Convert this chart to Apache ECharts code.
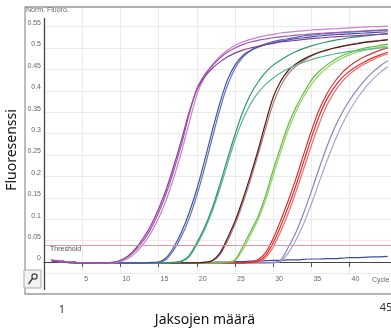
<!DOCTYPE html>
<html><head><meta charset="utf-8">
<script src="https://cdn.jsdelivr.net/npm/echarts@6/dist/echarts.min.js"></script>
<style>html,body{margin:0;padding:0;background:#fff}#c{width:391px;height:329px}</style>
</head><body><div id="c"></div>
<script>
const cycles = [1,2,3,4,5,6,7,8,9,10,11,12,13,14,15,16,17,18,19,20,21,22,23,24,25,26,27,28,29,30,31,32,33,34,35,36,37,38,39,40,41,42,43,44,45];
const xTickLabels = [5,10,15,20,25,30,35,40];
const yTickLabels = [0,0.05,0.1,0.15,0.2,0.25,0.3,0.35,0.4,0.45,0.5,0.55];
const threshold = 0.044;

const purpleA = [0.004,0.002,0.000,-0.001,-0.002,-0.002,-0.002,-0.002,-0.001,0.003, 0.012,0.028,0.05,0.078,0.115,0.16,0.215,0.275,0.345,0.405, 0.437,0.458,0.476,0.49,0.5,0.508,0.514,0.518,0.521,0.524, 0.526,0.528,0.53,0.531,0.533,0.534,0.535,0.536,0.537,0.538, 0.539,0.54,0.541,0.542,0.543];
const purpleB = [0.005,0.003,0.001,-0.001,-0.002,-0.003,-0.003,-0.002,-0.002,0.001, 0.008,0.022,0.042,0.068,0.102,0.145,0.198,0.258,0.325,0.39, 0.432,0.46,0.48,0.495,0.506,0.514,0.52,0.525,0.529,0.532, 0.535,0.537,0.539,0.54,0.542,0.543,0.544,0.545,0.546,0.547, 0.548,0.549,0.55,0.55,0.551];
const purpleC = [0.003,0.001,-0.001,-0.002,-0.003,-0.003,-0.002,-0.002,-0.001,0.004, 0.014,0.032,0.056,0.086,0.124,0.17,0.225,0.285,0.35,0.402, 0.432,0.452,0.467,0.479,0.488,0.495,0.5,0.504,0.508,0.511, 0.514,0.516,0.518,0.52,0.522,0.523,0.525,0.526,0.527,0.528, 0.529,0.53,0.531,0.532,0.533];
const blueA = [0.004,0.002,0.0,-0.001,-0.002,-0.002,-0.002,-0.002,-0.002,-0.002, -0.002,-0.002,-0.002,-0.001,0.0,0.01,0.035,0.07,0.115,0.17, 0.235,0.305,0.37,0.425,0.46,0.482,0.494,0.502,0.508,0.512, 0.516,0.519,0.522,0.524,0.526,0.528,0.53,0.531,0.532,0.533, 0.534,0.535,0.536,0.537,0.538];
const blueB = [0.003,0.001,-0.001,-0.002,-0.002,-0.003,-0.003,-0.002,-0.002,-0.002, -0.002,-0.002,-0.002,-0.002,-0.001,0.006,0.028,0.06,0.102,0.155, 0.218,0.288,0.355,0.412,0.452,0.478,0.493,0.503,0.51,0.515, 0.519,0.522,0.525,0.528,0.53,0.532,0.534,0.535,0.536,0.537, 0.538,0.539,0.54,0.541,0.542];
const tealA = [0.004,0.002,0.0,-0.001,-0.002,-0.002,-0.002,-0.002,-0.002,-0.002, -0.002,-0.002,-0.002,-0.002,-0.002,-0.002,-0.001,0.002,0.015,0.045, 0.08,0.125,0.18,0.24,0.298,0.35,0.39,0.42,0.443,0.46, 0.472,0.483,0.492,0.499,0.505,0.51,0.514,0.518,0.521,0.524, 0.526,0.528,0.53,0.532,0.534];
const tealB = [0.003,0.001,-0.001,-0.002,-0.002,-0.002,-0.003,-0.003,-0.002,-0.002, -0.002,-0.002,-0.002,-0.002,-0.002,-0.002,-0.001,0.001,0.012,0.04, 0.075,0.118,0.17,0.228,0.285,0.332,0.368,0.395,0.415,0.43, 0.442,0.452,0.46,0.467,0.473,0.478,0.482,0.486,0.489,0.492, 0.494,0.496,0.498,0.5,0.501];
const brownA = [0.004,0.002,0.0,-0.001,-0.002,-0.002,-0.002,-0.002,-0.002,-0.002, -0.002,-0.002,-0.002,-0.002,-0.002,-0.002,-0.002,-0.002,-0.002,-0.002, -0.001,0.003,0.02,0.055,0.095,0.145,0.2,0.26,0.325,0.385, 0.423,0.448,0.463,0.474,0.483,0.49,0.495,0.5,0.504,0.507, 0.51,0.513,0.515,0.517,0.519];
const brownB = [0.003,0.001,-0.001,-0.002,-0.002,-0.002,-0.002,-0.003,-0.003,-0.002, -0.002,-0.002,-0.002,-0.002,-0.002,-0.002,-0.002,-0.002,-0.002,-0.002, -0.001,0.002,0.016,0.048,0.088,0.136,0.19,0.25,0.312,0.37, 0.412,0.44,0.458,0.471,0.481,0.489,0.495,0.5,0.504,0.508, 0.511,0.514,0.516,0.518,0.52];
const lgreenA = [0.004,0.002,0.0,-0.001,-0.002,-0.002,-0.002,-0.002,-0.002,-0.002, -0.002,-0.002,-0.002,-0.002,-0.002,-0.002,-0.002,-0.002,-0.002,-0.002, -0.002,-0.002,-0.002,-0.001,0.005,0.035,0.07,0.105,0.155,0.215, 0.27,0.322,0.362,0.395,0.425,0.445,0.46,0.472,0.482,0.489, 0.495,0.5,0.503,0.506,0.509];
const lgreenB = [0.003,0.001,-0.001,-0.002,-0.002,-0.002,-0.003,-0.002,-0.002,-0.002, -0.002,-0.002,-0.002,-0.002,-0.002,-0.002,-0.002,-0.002,-0.002,-0.002, -0.002,-0.002,-0.002,-0.001,0.003,0.028,0.062,0.098,0.145,0.202, 0.258,0.31,0.352,0.386,0.415,0.437,0.453,0.466,0.476,0.484, 0.49,0.495,0.499,0.502,0.505];
const redA = [0.004,0.002,0.0,-0.001,-0.002,-0.002,-0.002,-0.002,-0.002,-0.002, -0.002,-0.002,-0.002,-0.002,-0.002,-0.002,-0.002,-0.002,-0.002,-0.002, -0.002,-0.002,-0.002,-0.002,-0.002,-0.002,-0.001,0.002,0.015,0.045, 0.085,0.13,0.18,0.235,0.29,0.34,0.38,0.408,0.43,0.446, 0.458,0.468,0.477,0.484,0.49];
const redB = [0.003,0.001,-0.001,-0.002,-0.002,-0.003,-0.002,-0.002,-0.002,-0.002, -0.002,-0.002,-0.002,-0.002,-0.002,-0.002,-0.002,-0.002,-0.002,-0.002, -0.002,-0.002,-0.002,-0.002,-0.002,-0.002,-0.002,0.0,0.01,0.035, 0.072,0.115,0.165,0.218,0.272,0.322,0.365,0.397,0.421,0.439, 0.452,0.463,0.472,0.48,0.486];
const redC = [0.004,0.002,0.0,-0.001,-0.002,-0.002,-0.002,-0.003,-0.002,-0.002, -0.002,-0.002,-0.002,-0.002,-0.002,-0.002,-0.002,-0.002,-0.002,-0.002, -0.002,-0.002,-0.002,-0.002,-0.002,-0.002,0.0,0.005,0.022,0.055, 0.098,0.145,0.196,0.252,0.306,0.355,0.392,0.42,0.442,0.458, 0.47,0.48,0.488,0.495,0.5];
const lavA = [0.004,0.002,0.0,-0.001,-0.002,-0.002,-0.002,-0.002,-0.002,-0.002, -0.002,-0.002,-0.002,-0.002,-0.002,-0.002,-0.002,-0.002,-0.002,-0.002, -0.002,-0.002,-0.002,-0.002,-0.002,-0.002,-0.002,-0.002,-0.002,-0.001, 0.005,0.035,0.07,0.115,0.165,0.218,0.268,0.312,0.348,0.378, 0.403,0.425,0.443,0.458,0.47];
const lavB = [0.003,0.001,-0.001,-0.002,-0.002,-0.002,-0.002,-0.002,-0.003,-0.002, -0.002,-0.002,-0.002,-0.002,-0.002,-0.002,-0.002,-0.002,-0.002,-0.002, -0.002,-0.002,-0.002,-0.002,-0.002,-0.002,-0.002,-0.002,-0.002,-0.002, 0.002,0.022,0.052,0.09,0.136,0.186,0.235,0.28,0.32,0.354, 0.382,0.406,0.426,0.443,0.457];
const flatNeg = [0.004,0.002,0.0,-0.001,-0.002,-0.002,-0.002,-0.002,-0.002,-0.002, -0.002,-0.002,-0.002,-0.002,-0.002,-0.002,-0.002,-0.002,-0.002,-0.002, -0.001,-0.001,0.0,0.0,0.001,0.001,0.002,0.002,0.003,0.004, 0.004,0.005,0.005,0.006,0.007,0.007,0.008,0.008,0.009,0.01, 0.01,0.011,0.012,0.012,0.013];

const curves = [
  {name:'flat', vals:flatNeg, color:'#3a4ea0'},
  {name:'lavB', vals:lavB, color:'#a6a4d2'},
  {name:'lavA', vals:lavA, color:'#8684bd'},
  {name:'redB', vals:redB, color:'#f06a6a'},
  {name:'redC', vals:redC, color:'#d43434'},
  {name:'redA', vals:redA, color:'#e42a2a'},
  {name:'lgreenB', vals:lgreenB, color:'#8fd468'},
  {name:'lgreenA', vals:lgreenA, color:'#62bb3c'},
  {name:'brownB', vals:brownB, color:'#b87474'},
  {name:'brownA', vals:brownA, color:'#4a1e1e'},
  {name:'tealB', vals:tealB, color:'#5cb48e'},
  {name:'tealA', vals:tealA, color:'#2c9868'},
  {name:'blueB', vals:blueB, color:'#6270b8'},
  {name:'blueA', vals:blueA, color:'#4353a4'},
  {name:'purpleB', vals:purpleB, color:'#c882cc'},
  {name:'purpleC', vals:purpleC, color:'#8a3c9c'},
  {name:'purpleA', vals:purpleA, color:'#a652ae'}
];

const series = curves.map((c, i) => {
  const s = {
    name: c.name, type:'line', smooth:0.3, symbol:'none', animation:false,
    data: cycles.map((x, k) => [x, c.vals[k]]),
    lineStyle:{color:c.color, width:1.2}
  };
  if (i === 0) {
    s.markLine = {
      silent:true, symbol:['none','none'], animation:false,
      lineStyle:{color:'#d99a9a', width:1.2, type:'solid'},
      label:{show:true, formatter:'Threshold', position:'insideStartBottom', fontSize:7, color:'#555', fontFamily:'Liberation Sans', distance:[6,1]},
      data:[{yAxis:threshold}]
    };
  }
  return s;
});

const chart = echarts.init(document.getElementById('c'), null, {renderer:'canvas'});
const fmtY = v => (v < -0.001 || v > 0.551) ? '' : String(Math.round(v*100)/100);
chart.setOption({
  animation:false,
  grid:{left:44, right:0, top:7, bottom:56},
  xAxis:{
    type:'value', min:0, max:45.42, minInterval:5, maxInterval:5,
    axisLine:{show:true, lineStyle:{color:'#444', width:1.2}},
    axisTick:{show:true, length:5, lineStyle:{color:'#555'}, customValues:xTickLabels},
    axisLabel:{fontSize:7, color:'#666', fontFamily:'Liberation Sans', align:'left', margin:3, padding:[0,0,0,2], customValues:xTickLabels,
      formatter: v => (xTickLabels.indexOf(v) >= 0 ? String(v) : '')},
    splitLine:{show:true, lineStyle:{color:'#ebebeb', width:1}}
  },
  yAxis:{
    type:'value', min:-0.0257, max:0.5958, minInterval:0.05, maxInterval:0.05,
    axisLine:{show:false},
    axisTick:{show:false},
    axisLabel:{fontSize:7, color:'#666', fontFamily:'Liberation Sans', margin:3, verticalAlign:'bottom', customValues:yTickLabels, formatter:fmtY},
    splitLine:{show:true, lineStyle:{color:'#ebebeb', width:1}}
  },
  graphic:[
    {type:'polyline', shape:{points:[[391,7],[25,7],[25,294],[391,294]]}, style:{stroke:'#9a9a9a', lineWidth:1.3, fill:null}, z:100},
    {type:'line', shape:{x1:44.5, y1:18, x2:44.5, y2:290}, style:{stroke:'#444', lineWidth:1.3}, z:100},
    {type:'rect', shape:{x:24, y:270, width:17, height:18}, style:{fill:'#f2f2f2', stroke:'#aaa', lineWidth:1}, z:100},
    {type:'circle', shape:{cx:34.5, cy:276.5, r:2.6}, style:{fill:null, stroke:'#444', lineWidth:1.2}, z:101},
    {type:'line', shape:{x1:32.5, y1:278.5, x2:28.5, y2:284}, style:{stroke:'#444', lineWidth:1.5}, z:101},
    {type:'text', x:26, y:6.5, style:{text:'Norm. Fluoro.', fontSize:7, fill:'#666', fontFamily:'Liberation Sans'}, z:100},
    {type:'text', x:372, y:276.5, style:{text:'Cycle', fontSize:7, fill:'#666', fontFamily:'Liberation Sans'}, z:100},
    {type:'text', x:62, y:310, style:{text:'1', fontSize:11, fill:'#333', fontFamily:'Noto Sans', align:'center', verticalAlign:'middle'}, z:100},
    {type:'text', x:386, y:308, style:{text:'45', fontSize:11, fill:'#333', fontFamily:'Noto Sans', align:'center', verticalAlign:'middle'}, z:100},
    {type:'text', x:205, y:320, style:{text:'Jaksojen määrä', fontSize:14, fill:'#111', fontFamily:'Noto Sans', align:'center', verticalAlign:'middle'}, z:100},
    {type:'text', x:12, y:150, rotation:Math.PI/2, style:{text:'Fluoresenssi', fontSize:14, fill:'#111', fontFamily:'Noto Sans', align:'center', verticalAlign:'middle'}, z:100}
  ],
  series: series
});
</script></body></html>
